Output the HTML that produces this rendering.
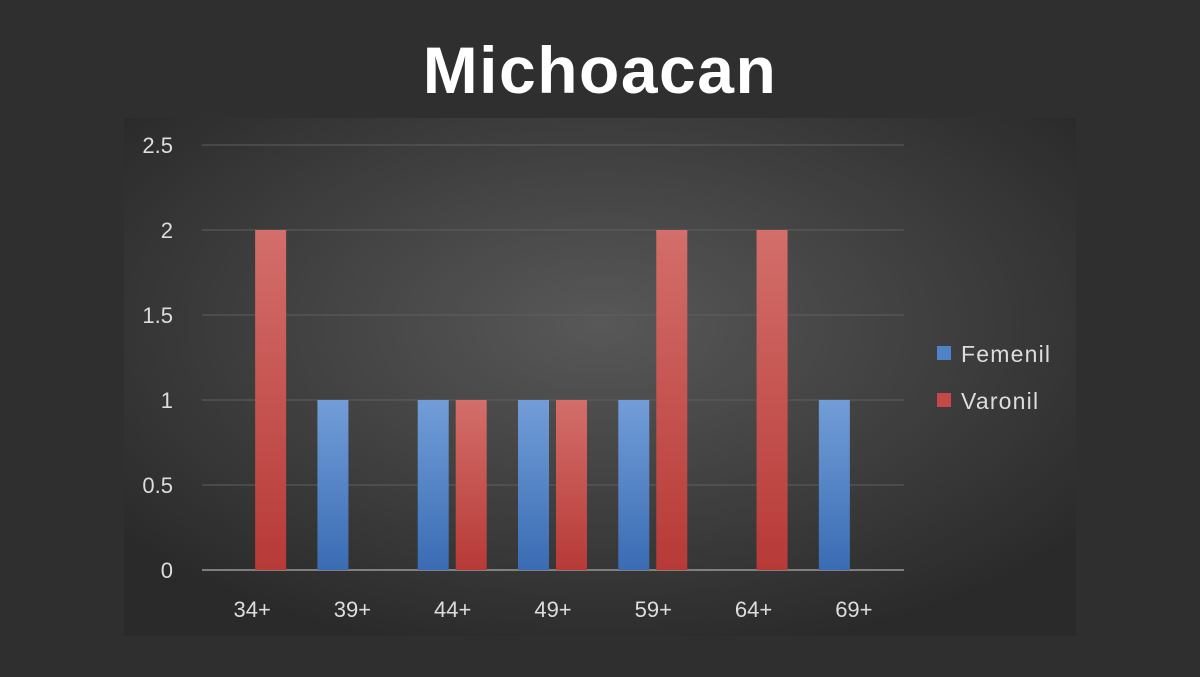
<!DOCTYPE html>
<html><head><meta charset="utf-8"><style>
body{margin:0;width:1200px;height:672px;background:#2f2f2f;overflow:hidden;font-family:"Liberation Sans",sans-serif}
</style></head><body>
<svg width="1200" height="672">
<defs>
<radialGradient id="bg" cx="50%" cy="40%" r="65%">
<stop offset="0" stop-color="#585858"/><stop offset="1" stop-color="#2a2a2a"/></radialGradient>
<linearGradient id="gb" x1="0" y1="0" x2="0" y2="1"><stop offset="0" stop-color="#729dd8"/><stop offset="1" stop-color="#3a6cb4"/></linearGradient>
<linearGradient id="gr" x1="0" y1="0" x2="0" y2="1"><stop offset="0" stop-color="#d36e6a"/><stop offset="1" stop-color="#b73a37"/></linearGradient>
</defs>
<text x="600" y="93" text-anchor="middle" fill="#fff" font-size="66" font-weight="bold" letter-spacing="1.5">Michoacan</text>
<rect x="124" y="118" width="952" height="518" fill="url(#bg)"/>
<g id="grid"></g><g id="bars"></g><g id="xl"></g>
<rect x="937" y="346" width="14" height="14" fill="#4f82c6"/>
<text x="961" y="362" fill="#ddd" font-size="23" letter-spacing="1.2">Femenil</text>
<rect x="937" y="393" width="14" height="14" fill="#c44a47"/>
<text x="961" y="409" fill="#ddd" font-size="23" letter-spacing="1.2">Varonil</text>
</svg>
<script>
const categories=["34+","39+","44+","49+","59+","64+","69+"];
const femenil=[0,1,1,1,1,0,1];
const varonil=[2,0,1,1,2,2,0];
const yTicks=[0,0.5,1,1.5,2,2.5];
const x0=202,x1=904,yb=570,yt=145,ymax=2.5;
const cw=(x1-x0)/categories.length;
const Y=v=>yb-(v/ymax)*(yb-yt);
const NS="http://www.w3.org/2000/svg";
function mk(t,a,p){const e=document.createElementNS(NS,t);for(const k in a)e.setAttribute(k,a[k]);p.appendChild(e);return e;}
const g=document.getElementById('grid');
yTicks.forEach(v=>{
const l=mk('line',{x1:x0,x2:x1,y1:Y(v),y2:Y(v),stroke:v===0?'#999':'#5f5f5f','stroke-width':v===0?1.5:1},g);


const t=mk('text',{x:173,y:Y(v)+8,'text-anchor':'end',fill:'#ddd','font-size':22},g);
t.textContent=v;


});
const b=document.getElementById('bars'),xl=document.getElementById('xl');
categories.forEach((c,i)=>{
const cx=x0+cw*i+cw/2;
if(femenil[i]>0){const r=mk('rect',{x:cx-35,y:Y(femenil[i]),width:31,height:yb-Y(femenil[i]),fill:'url(#gb)'},b);

}
if(varonil[i]>0){const r=mk('rect',{x:cx+3,y:Y(varonil[i]),width:31,height:yb-Y(varonil[i]),fill:'url(#gr)'},b);

}
const t=mk('text',{x:cx,y:617,'text-anchor':'middle',fill:'#ddd','font-size':22},xl);
t.textContent=c;


});
</script>
</body></html>
